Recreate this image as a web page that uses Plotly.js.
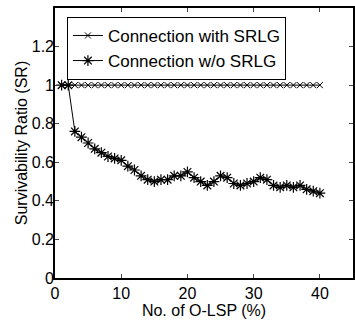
<!DOCTYPE html>
<html>
<head>
<meta charset="utf-8">
<script src="https://cdn.plot.ly/plotly-3.0.1.min.js"></script>
<style>html,body{margin:0;padding:0;background:#fff;}#chart{width:355px;height:321px;}</style>
</head>
<body>
<div id="chart"></div>
<script>
const xValues = [1,2,3,4,5,6,7,8,9,10,11,12,13,14,15,16,17,18,19,20,21,22,23,24,25,26,27,28,29,30,31,32,33,34,35,36,37,38,39,40];
const withSRLG = [1,1,1,1,1,1,1,1,1,1,1,1,1,1,1,1,1,1,1,1,1,1,1,1,1,1,1,1,1,1,1,1,1,1,1,1,1,1,1,1];
const withoutSRLG = [1.00,1.00,0.76,0.73,0.70,0.67,0.65,0.63,0.62,0.61,0.58,0.56,0.53,0.51,0.50,0.51,0.51,0.53,0.53,0.55,0.52,0.50,0.48,0.50,0.53,0.52,0.49,0.48,0.49,0.50,0.52,0.51,0.48,0.47,0.48,0.47,0.48,0.46,0.45,0.44];
const seriesNames = ["Connection with SRLG", "Connection w/o SRLG"];
const xTicks = [0,10,20,30,40];
const yTicks = [0,0.2,0.4,0.6,0.8,1,1.2];

const FONT = '"Liberation Sans", Arial, Helvetica, sans-serif';

const traces = [
  {x: xValues, y: withSRLG, name: seriesNames[0], mode: 'lines+markers',
   line: {color: '#000', width: 1},
   marker: {symbol: 'x-thin-open', size: 6, color: '#000', line: {color: '#000', width: 1}}},
  {x: xValues, y: withoutSRLG, name: seriesNames[1], mode: 'lines+markers',
   line: {color: '#000', width: 1},
   marker: {symbol: 'asterisk-open', size: 9, color: '#000', line: {color: '#000', width: 1.2}}}
];

const layout = {
  width: 355, height: 321,
  margin: {l: 55, r: 2, t: 8, b: 43},
  paper_bgcolor: '#fff', plot_bgcolor: '#fff',
  font: {family: FONT, size: 16, color: '#000'},
  showlegend: true,
  legend: {x: 0.04, y: 0.967, xanchor: 'left', yanchor: 'top',
           bordercolor: '#000', borderwidth: 1, bgcolor: '#fff',
           font: {family: FONT, size: 17, color: '#000'}, tracegroupgap: 0},
  xaxis: {range: [0, 45], tickvals: xTicks, ticks: 'inside', ticklen: 4,
          showline: true, linecolor: '#000', linewidth: 1.8, mirror: 'ticks',
          showgrid: false, zeroline: false,
          tickfont: {family: FONT, size: 16},
          title: {text: 'No. of O-LSP (%)', standoff: 0, font: {family: FONT, size: 16}}},
  yaxis: {range: [0, 1.4], tickvals: yTicks, ticks: 'inside', ticklen: 4,
          showline: true, linecolor: '#000', linewidth: 1.8, mirror: 'ticks',
          showgrid: false, zeroline: false, ticklabelstandoff: -4,
          tickfont: {family: FONT, size: 16},
          title: {text: 'Survivability Ratio (SR)', standoff: 0, font: {family: FONT, size: 16}}}
};

Plotly.newPlot('chart', traces, layout, {displayModeBar: false, staticPlot: true});
</script>
</body>
</html>
